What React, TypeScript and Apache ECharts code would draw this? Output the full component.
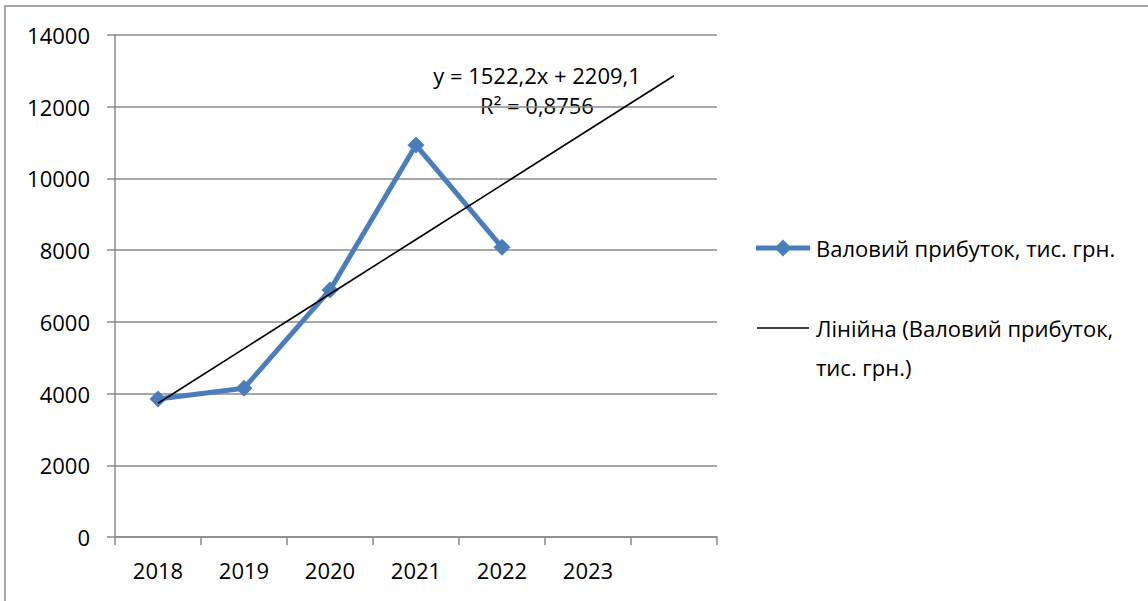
import React, { useEffect, useRef } from "react";
import * as echarts from "echarts";

// Years on the category axis; the last slot is the forecast step of the trend line.
const years = ["2018", "2019", "2020", "2021", "2022", "2023", ""];
// Gross profit, thousand UAH
const grossProfit = [3850, 4150, 6890, 10930, 8080];
// Linear trend coefficients (x = 1, 2, 3, ...)
const trendSlope = 1522.2;
const trendIntercept = 2209.1;
const trendR2 = "0,8756";
const seriesName = "Валовий прибуток, тис. грн.";
const trendName = "Лінійна (Валовий прибуток, тис. грн.)";

const FONT = "'Open Sans', 'Noto Sans', sans-serif";
const FS = 22;
const GREY = "#8a8a8a";
const BLUE = "#4a7ebb";

export default function App() {
  const ref = useRef<HTMLDivElement>(null);

  useEffect(() => {
    if (!ref.current) return;
    const chart = echarts.init(ref.current, null, { renderer: "svg" });

    const trend = years.map((_, i) =>
      Math.round((trendSlope * (i + 1) + trendIntercept) * 10) / 10
    );
    const fmt = (v: number) => v.toFixed(1).replace(".", ",");

    chart.setOption({
      animation: false,
      backgroundColor: "#ffffff",
      textStyle: { fontFamily: FONT },
      grid: { left: 115, top: 35, right: 431, bottom: 64 },
      xAxis: {
        type: "category",
        data: years,
        boundaryGap: true,
        axisLine: { lineStyle: { color: GREY, width: 1.5 } },
        axisTick: { show: true, length: 8, alignWithLabel: false, lineStyle: { color: GREY, width: 1.5 } },
        axisLabel: { color: "#000", fontSize: FS, fontFamily: FONT, margin: 22 },
        splitLine: { show: false },
      },
      yAxis: {
        type: "value",
        min: 0,
        max: 14000,
        interval: 2000,
        axisLine: { show: true, lineStyle: { color: GREY, width: 1.5 } },
        axisTick: { show: true, length: 8, lineStyle: { color: GREY, width: 1.5 } },
        axisLabel: {
          color: "#000",
          fontSize: FS,
          fontFamily: FONT,
          margin: 25,
          formatter: (v: number) => String(v),
        },
        splitLine: { show: true, lineStyle: { color: GREY, width: 1.5 } },
      },
      series: [
        {
          name: trendName,
          type: "line",
          data: trend,
          symbol: "none",
          z: 3,
          lineStyle: { color: "#000", width: 1.6 },
        },
        {
          name: seriesName,
          type: "line",
          data: grossProfit,
          symbol: "diamond",
          symbolSize: 17,
          z: 2,
          itemStyle: { color: BLUE },
          lineStyle: { color: BLUE, width: 5 },
        },
      ],
      graphic: [
        // chart frame
        {
          type: "rect",
          shape: { x: 5, y: 6, width: 1300, height: 700 },
          style: { fill: "none", stroke: GREY, lineWidth: 1.5 },
          silent: true,
          z: -1,
        },
        // trend equation
        {
          type: "text",
          x: 537,
          y: 75,
          style: {
            text: `y = ${fmt(trendSlope)}x + ${fmt(trendIntercept)}`,
            font: `${FS}px ${FONT}`,
            fill: "#000",
            align: "center",
            verticalAlign: "middle",
          },
        },
        {
          type: "text",
          x: 537,
          y: 105,
          style: {
            text: `R² = ${trendR2}`,
            font: `${FS}px ${FONT}`,
            fill: "#000",
            align: "center",
            verticalAlign: "middle",
          },
        },
        // legend
        {
          type: "line",
          shape: { x1: 756, y1: 248, x2: 810, y2: 248 },
          style: { stroke: BLUE, lineWidth: 5 },
        },
        {
          type: "polygon",
          shape: { points: [[783, 239.5], [791.5, 248], [783, 256.5], [774.5, 248]] },
          style: { fill: BLUE },
        },
        {
          type: "text",
          x: 816,
          y: 248,
          style: {
            text: seriesName,
            font: `${FS}px ${FONT}`,
            fill: "#000",
            verticalAlign: "middle",
          },
        },
        {
          type: "line",
          shape: { x1: 757, y1: 328, x2: 809, y2: 328 },
          style: { stroke: "#000", lineWidth: 1.6 },
        },
        {
          type: "text",
          x: 816,
          y: 328,
          style: {
            text: "Лінійна (Валовий прибуток,",
            font: `${FS}px ${FONT}`,
            fill: "#000",
            verticalAlign: "middle",
          },
        },
        {
          type: "text",
          x: 816,
          y: 367,
          style: {
            text: "тис. грн.)",
            font: `${FS}px ${FONT}`,
            fill: "#000",
            verticalAlign: "middle",
          },
        },
      ],
    });

    return () => chart.dispose();
  }, []);

  return (
    <div
      ref={ref}
      style={{ position: "absolute", left: 0, top: 0, width: 1148, height: 601, background: "#fff" }}
    />
  );
}
